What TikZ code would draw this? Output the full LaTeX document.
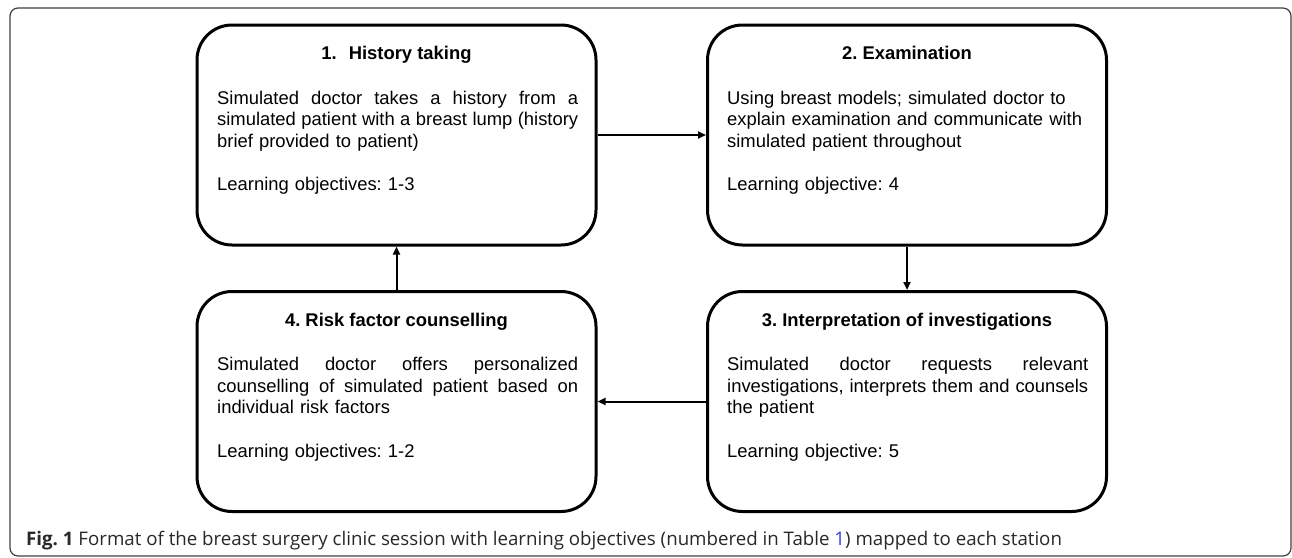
\documentclass[tikz,border=0pt]{standalone}
\usepackage{fontspec}
\setmainfont{Liberation Sans}
\newfontfamily\capfont{Open Sans}
\usetikzlibrary{arrows.meta}
\newcommand{\jline}[1]{\leavevmode\hbox to 361pt{\spaceskip=0.278em plus 1fil minus 0.06em\relax #1}}
\definecolor{linkblue}{RGB}{60,60,220}
\definecolor{captext}{RGB}{40,40,40}
\frenchspacing
\begin{document}
\begin{tikzpicture}[x=1pt,y=-1pt,
  stationbox/.style={draw=black, line width=3pt, rounded corners=35pt,
    minimum width=399pt, minimum height=220pt, inner sep=0pt},
  titletext/.style={font=\fontsize{18.4pt}{21.7pt}\selectfont\bfseries, inner sep=0pt, anchor=base},
  bodytext/.style={font=\fontsize{18.4pt}{21.7pt}\selectfont\frenchspacing, text width=361pt, align=left,
    inner sep=0pt, anchor=base west},
  flow/.style={line width=2pt, -{Triangle[length=8pt,width=7pt]}},
  framestyle/.style={draw=black!75, line width=1.2pt, rounded corners=8pt}]
\useasboundingbox (0,0) rectangle (1292,557);
\draw[framestyle] (10,8) rectangle (1291,556);

\node[stationbox] (s1) at (396.5,135) {};
\node[stationbox] (s2) at (907,135) {};
\node[stationbox] (s3) at (907,401.5) {};
\node[stationbox] (s4) at (396.5,401.5) {};

\node[titletext] (t1) at (396.5,59.5) {1.\hskip12pt History taking};
\node[titletext] (t2) at (907,59.5) {2. Examination};
\node[titletext] (t3) at (907,326.5) {3. Interpretation of investigations};
\node[titletext] (t4) at (396.5,326.5) {4. Risk factor counselling};

\node[bodytext] (d1) at (217,104) {\jline{Simulated doctor takes a history from a}\\
\jline{simulated patient with a breast lump (history}\\
brief provided to patient)\\[21.7pt]
Learning objectives: 1-3};

\node[bodytext] (d2) at (727,104) {Using breast models; simulated doctor to\\
explain examination and communicate with\\
simulated patient throughout\\[21.7pt]
Learning objective: 4};

\node[bodytext] (d3) at (727,370.5) {\jline{Simulated doctor requests relevant}\\
\jline{investigations, interprets them and counsels}\\
the patient\\[21.7pt]
Learning objective: 5};

\node[bodytext] (d4) at (217,370.5) {\jline{Simulated doctor offers personalized}\\
\jline{counselling of simulated patient based on}\\
individual risk factors\\[21.7pt]
Learning objectives: 1-2};

\draw[flow] (s1.east) -- (s2.west);
\draw[flow] (s2.south) -- (s3.north);
\draw[flow] (s3.west) -- (s4.east);
\draw[flow] (s4.north) -- (s1.south);

\node[anchor=base west, inner sep=0pt, text=captext, font=\capfont\fontsize{18.7pt}{22pt}\selectfont] (cap) at (26,545)
  {\textbf{Fig. 1} Format of the breast surgery clinic session with learning objectives (numbered in Table \textcolor{linkblue}{1}) mapped to each station};
\end{tikzpicture}
\end{document}
